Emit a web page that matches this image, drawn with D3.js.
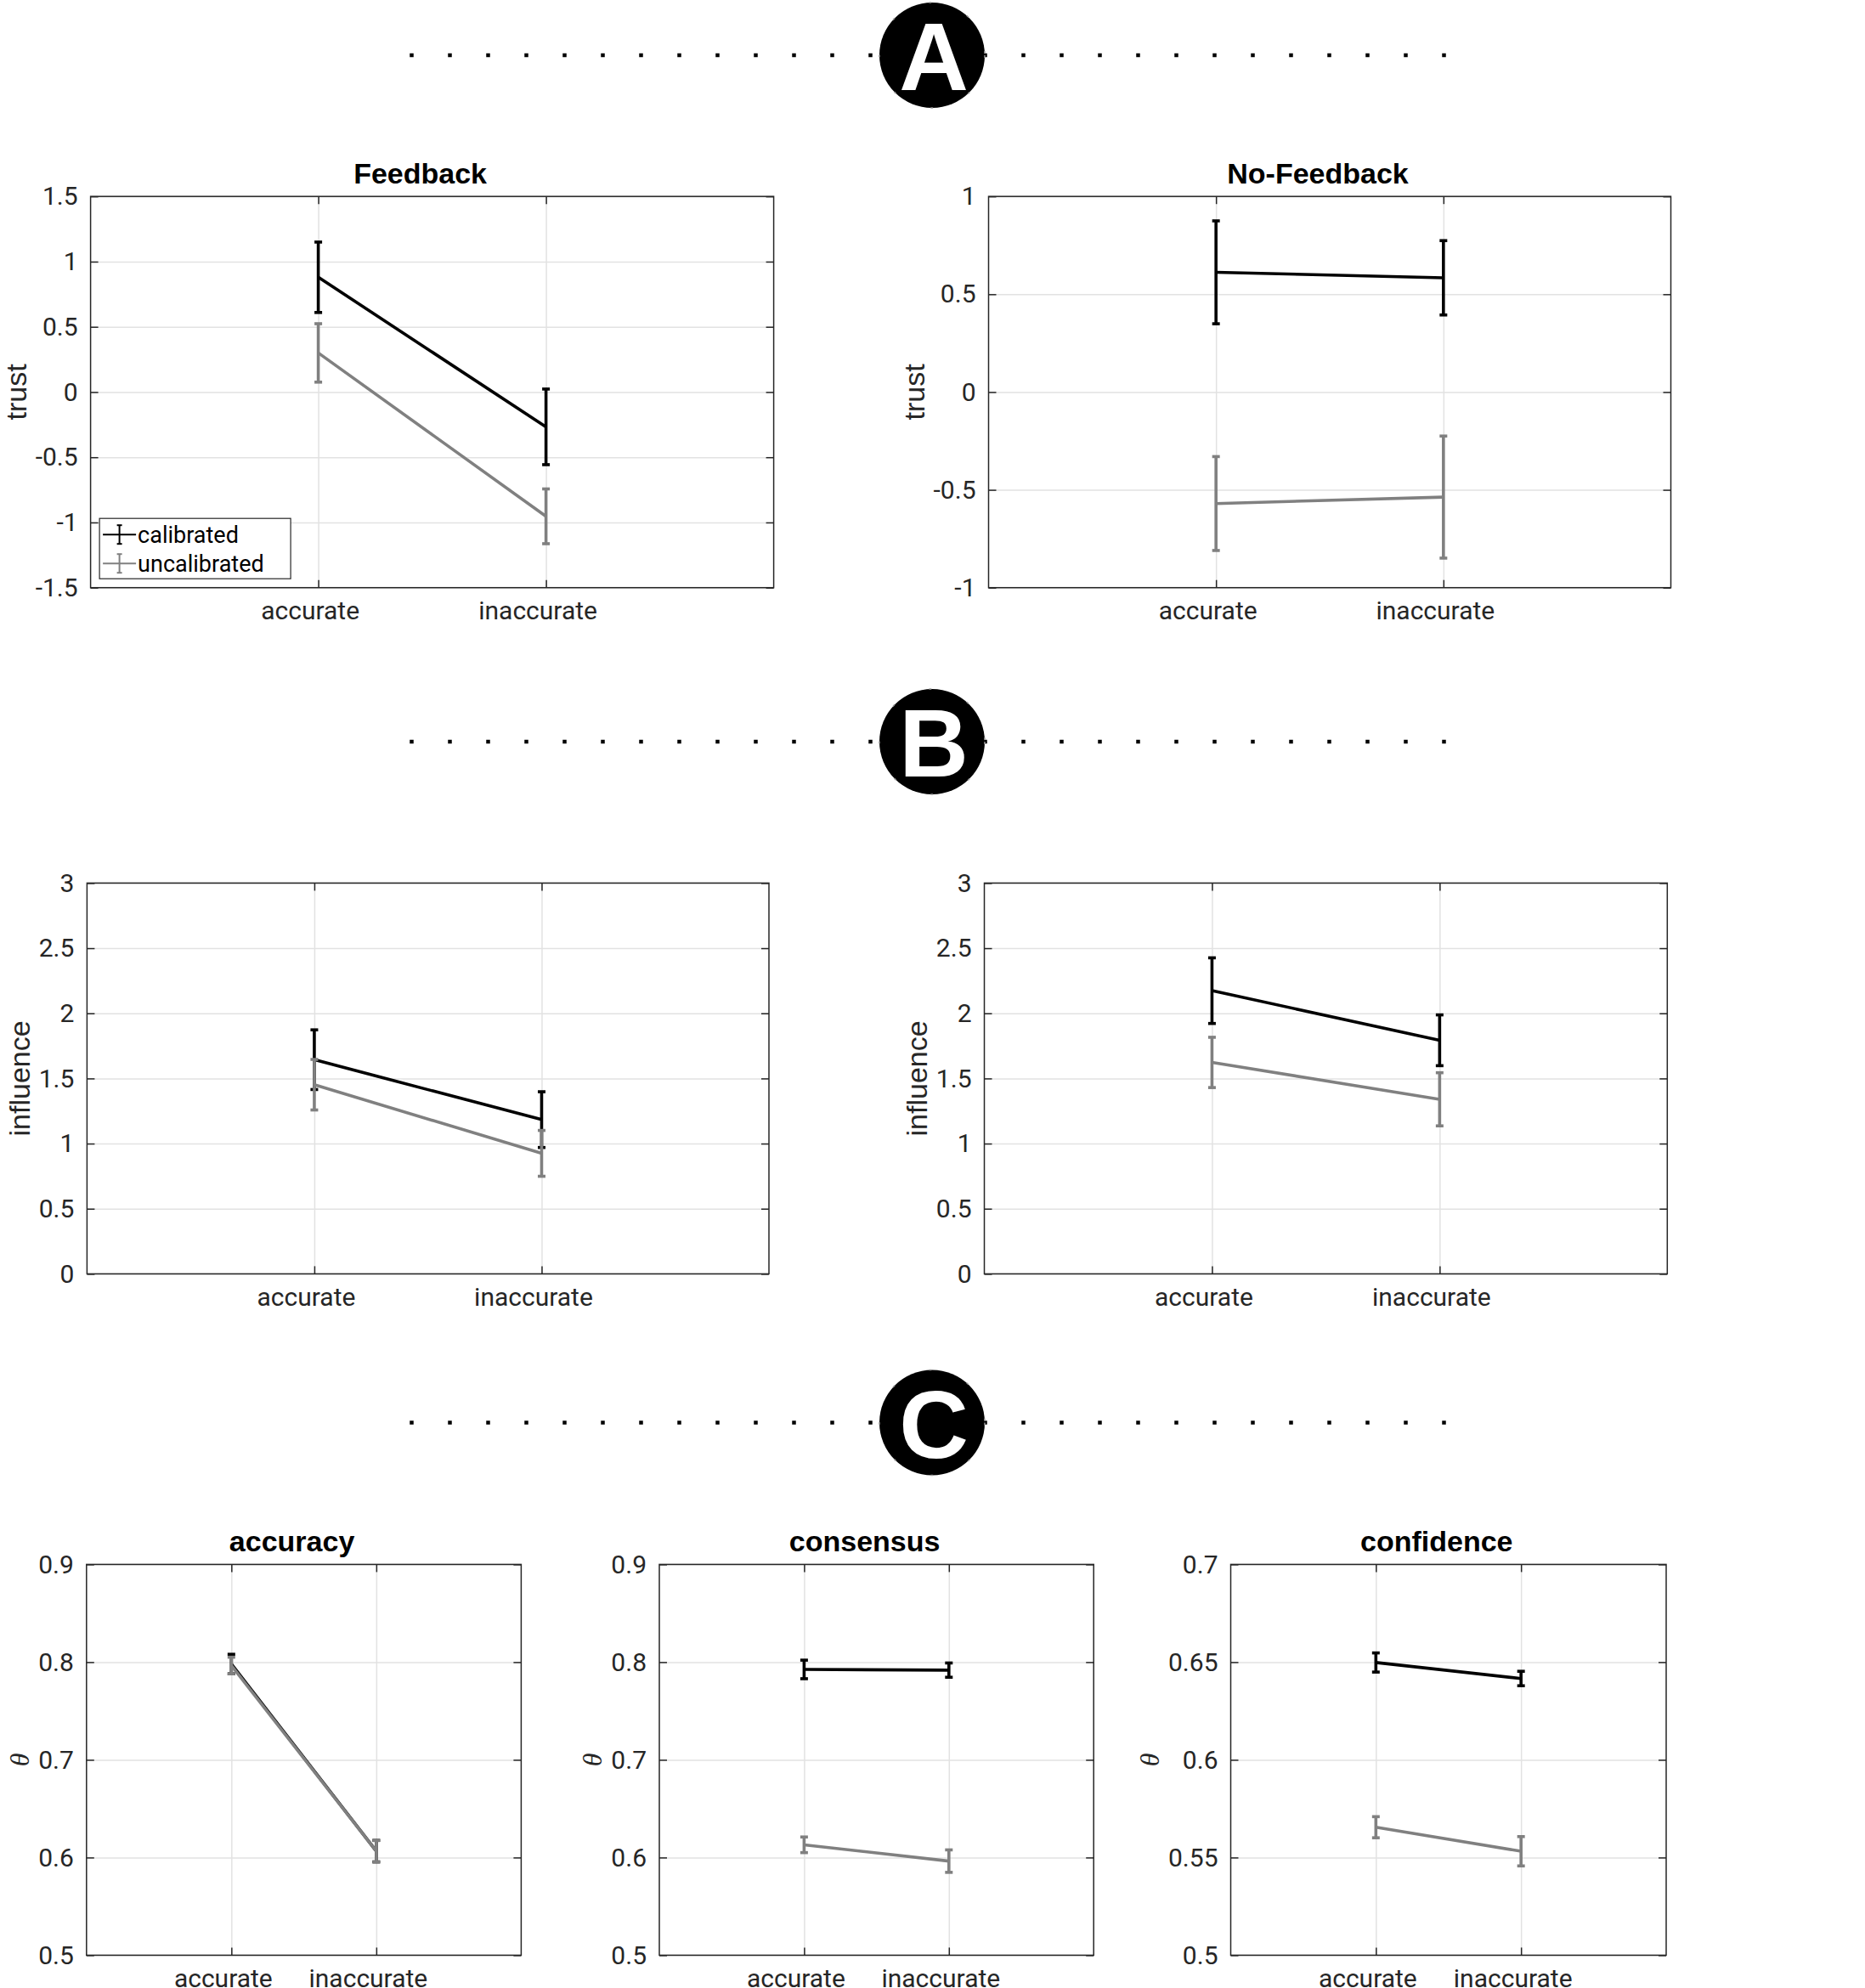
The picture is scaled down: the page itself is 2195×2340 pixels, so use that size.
<!DOCTYPE html>
<html>
<head>
<meta charset="utf-8">
<script src="https://cdn.jsdelivr.net/npm/d3@7"></script>
<style>
  body { margin: 0; background: #fff; }
  svg { display: block; background: #fff; }
</style>
</head>
<body>
<svg id="fig" width="2195" height="2340"></svg>
<script>
// x categories and series
const categories = ['accurate', 'inaccurate'];
const seriesNames = ['calibrated', 'uncalibrated'];

// A: trust, feedback
const trustFbCal = [0.88, -0.267];
const trustFbCalErr = [0.27, 0.29];
const trustFbUncal = [0.30, -0.953];
const trustFbUncalErr = [0.224, 0.21];

// A: trust, no feedback
const trustNoFbCal = [0.612, 0.584];
const trustNoFbCalErr = [0.263, 0.19];
const trustNoFbUncal = [-0.57, -0.537];
const trustNoFbUncalErr = [0.24, 0.312];

// B: influence, feedback
const inflFbCal = [1.644, 1.184];
const inflFbCalErr = [0.229, 0.214];
const inflFbUncal = [1.452, 0.925];
const inflFbUncalErr = [0.194, 0.176];

// B: influence, no feedback
const inflNoFbCal = [2.174, 1.793];
const inflNoFbCalErr = [0.252, 0.195];
const inflNoFbUncal = [1.623, 1.34];
const inflNoFbUncalErr = [0.193, 0.204];

// C: theta
const accuracyCal = [0.798, 0.6065];
const accuracyCalErr = [0.010, 0.011];
const accuracyUncal = [0.7965, 0.6065];
const accuracyUncalErr = [0.0085, 0.011];

const consensusCal = [0.7925, 0.7918];
const consensusCalErr = [0.0095, 0.0073];
const consensusUncal = [0.613, 0.5963];
const consensusUncalErr = [0.008, 0.0115];

const confidenceCal = [0.6498, 0.6416];
const confidenceCalErr = [0.0049, 0.0037];
const confidenceUncal = [0.5655, 0.5532];
const confidenceUncalErr = [0.0054, 0.0075];

// y ticks
const trustFbTicks = [-1.5, -1, -0.5, 0, 0.5, 1, 1.5];
const trustFbTickLabels = ['-1.5', '-1', '-0.5', '0', '0.5', '1', '1.5'];
const trustNoFbTicks = [-1, -0.5, 0, 0.5, 1];
const trustNoFbTickLabels = ['-1', '-0.5', '0', '0.5', '1'];
const inflTicks = [0, 0.5, 1, 1.5, 2, 2.5, 3];
const inflTickLabels = ['0', '0.5', '1', '1.5', '2', '2.5', '3'];
const thetaTicks = [0.5, 0.6, 0.7, 0.8, 0.9];
const thetaTickLabels = ['0.5', '0.6', '0.7', '0.8', '0.9'];
const confTicks = [0.5, 0.55, 0.6, 0.65, 0.7];
const confTickLabels = ['0.5', '0.55', '0.6', '0.65', '0.7'];

const sectionLetters = ['A', 'B', 'C'];

const svg = d3.select('#fig');
const axisColor = '#262626';
const gridColor = '#e2e2e2';
const seriesColor = ['#000000', '#808080'];
const tickFont = 'Roboto, "Liberation Sans", sans-serif';

function drawPanel(p) {
  const g = svg.append('g')
    .attr('transform', 'translate(' + p.left + ',' + p.top + ')');

  const x = d3.scaleLinear().domain([0, categories.length + 1]).range([0, p.width]);
  const y = d3.scaleLinear().domain(d3.extent(p.ticks)).range([p.height, 0]);
  const xTicks = categories.map(function (d, i) { return i + 1; });

  // grid
  g.append('g')
    .attr('class', 'grid')
    .call(d3.axisLeft(y).tickValues(p.ticks).tickSize(-p.width).tickFormat(''))
    .call(function (s) { s.select('.domain').remove(); })
    .selectAll('line')
    .attr('stroke', gridColor)
    .attr('stroke-width', 1.5);

  g.append('g')
    .attr('class', 'grid')
    .attr('transform', 'translate(0,' + p.height + ')')
    .call(d3.axisBottom(x).tickValues(xTicks).tickSize(-p.height).tickFormat(''))
    .call(function (s) { s.select('.domain').remove(); })
    .selectAll('line')
    .attr('stroke', gridColor)
    .attr('stroke-width', 1.5);

  // axes with inward ticks
  const yAxis = g.append('g')
    .attr('class', 'y-axis axis')
    .call(d3.axisLeft(y)
      .tickValues(p.ticks)
      .tickSizeInner(-9)
      .tickSizeOuter(0)
      .tickPadding(15)
      .tickFormat(function (d, i) { return p.tickLabels[i]; }));

  g.append('g')
    .attr('transform', 'translate(' + p.width + ',0)')
    .call(d3.axisRight(y).tickValues(p.ticks).tickSizeInner(-9).tickSizeOuter(0).tickFormat(''));

  g.append('g')
    .call(d3.axisTop(x).tickValues(xTicks).tickSizeInner(-9).tickSizeOuter(0).tickFormat(''));

  g.append('g')
    .attr('class', 'x-axis axis')
    .attr('transform', 'translate(0,' + p.height + ')')
    .call(d3.axisBottom(x)
      .tickValues(xTicks)
      .tickSizeInner(-9)
      .tickSizeOuter(0)
      .tickPadding(16)
      .tickFormat(function (d) { return categories[d - 1]; }))
    .selectAll('text')
    .attr('dx', -10);

  g.selectAll('.domain').remove();
  g.selectAll('.tick line').filter(function () {
    return !this.parentNode.parentNode.classList.contains('grid');
  })
    .attr('stroke', axisColor)
    .attr('stroke-width', 1.5);

  g.selectAll('.axis text')
    .attr('fill', axisColor)
    .style('font-family', tickFont)
    .style('font-size', '30px');

  // series (calibrated first, uncalibrated on top)
  p.series.forEach(function (s, si) {
    const pts = s.mean.map(function (m, i) {
      return { x: i + 1, m: m, e: s.err[i] };
    });
    const sg = g.append('g').attr('class', 'series');

    sg.append('path')
      .datum(pts)
      .attr('fill', 'none')
      .attr('stroke', seriesColor[si])
      .attr('stroke-width', 3.6)
      .attr('d', d3.line()
        .x(function (d) { return x(d.x); })
        .y(function (d) { return y(d.m); }));

    const bars = sg.selectAll('.bar')
      .data(pts)
      .enter()
      .append('g')
      .attr('class', 'bar');

    bars.append('line')
      .attr('x1', function (d) { return x(d.x); })
      .attr('x2', function (d) { return x(d.x); })
      .attr('y1', function (d) { return y(d.m + d.e); })
      .attr('y2', function (d) { return y(d.m - d.e); })
      .attr('stroke', seriesColor[si])
      .attr('stroke-width', 3.6);

    [1, -1].forEach(function (sign) {
      bars.append('line')
        .attr('x1', function (d) { return x(d.x) - 4.5; })
        .attr('x2', function (d) { return x(d.x) + 4.5; })
        .attr('y1', function (d) { return y(d.m + sign * d.e); })
        .attr('y2', function (d) { return y(d.m + sign * d.e); })
        .attr('stroke', seriesColor[si])
        .attr('stroke-width', 3.6);
    });
  });

  // box
  g.append('rect')
    .attr('width', p.width)
    .attr('height', p.height)
    .attr('fill', 'none')
    .attr('stroke', axisColor)
    .attr('stroke-width', 1.5);

  if (p.title) {
    g.append('text')
      .attr('x', p.width / 2 - 14)
      .attr('y', -15.5)
      .attr('text-anchor', 'middle')
      .style('font-family', '"Liberation Sans", Arial, sans-serif')
      .style('font-weight', 'bold')
      .style('font-size', '34px')
      .attr('fill', '#000')
      .text(p.title);
  }

  // y label placed left of the widest tick label
  let minX = 0;
  yAxis.selectAll('text').each(function () {
    const b = this.getBBox();
    minX = Math.min(minX, b.x);
  });
  const lab = g.append('text')
    .attr('transform', 'translate(' + (minX - 11) + ',' + (p.height / 2) + ') rotate(-90)')
    .attr('text-anchor', 'middle')
    .attr('fill', axisColor)
    .text(p.ylabel);
  if (p.ylabel === 'θ') {
    lab.style('font-family', '"Liberation Serif", "DejaVu Serif", serif')
      .style('font-style', 'italic')
      .style('font-size', '32px');
  } else {
    lab.style('font-family', '"Liberation Sans", Arial, sans-serif')
      .style('font-size', '34px');
  }

  if (p.legend) {
    const lg = g.append('g')
      .attr('transform', 'translate(10.5,' + (p.height - 81.5) + ')');
    lg.append('rect')
      .attr('width', 225)
      .attr('height', 71)
      .attr('fill', '#fff')
      .attr('stroke', axisColor)
      .attr('stroke-width', 1.2);
    const rows = lg.selectAll('.entry')
      .data(seriesNames)
      .enter()
      .append('g')
      .attr('class', 'entry')
      .attr('transform', function (d, i) { return 'translate(0,' + (19 + i * 34) + ')'; });
    rows.append('line')
      .attr('x1', 4).attr('x2', 43).attr('y1', 0).attr('y2', 0)
      .attr('stroke', function (d, i) { return seriesColor[i]; })
      .attr('stroke-width', 2);
    rows.append('line')
      .attr('x1', 23.5).attr('x2', 23.5).attr('y1', -11).attr('y2', 11)
      .attr('stroke', function (d, i) { return seriesColor[i]; })
      .attr('stroke-width', 2);
    [-11, 11].forEach(function (cy) {
      rows.append('line')
        .attr('x1', 20.5).attr('x2', 26.5).attr('y1', cy).attr('y2', cy)
        .attr('stroke', function (d, i) { return seriesColor[i]; })
        .attr('stroke-width', 2);
    });
    rows.append('text')
      .attr('x', 45)
      .attr('y', 0)
      .attr('dy', '0.35em')
      .attr('fill', '#000')
      .style('font-family', tickFont)
      .style('font-size', '27px')
      .text(function (d) { return d; });
  }
}

// section headers: dotted rule with lettered disc
const headerY = [65, 873, 1674.5];
headerY.forEach(function (cy, i) {
  const hg = svg.append('g').attr('class', 'header');
  hg.selectAll('rect')
    .data(d3.range(28))
    .enter()
    .append('rect')
    .attr('x', function (k) { return 484.5 + k * 45 - 2.25; })
    .attr('y', cy - 2.25)
    .attr('width', 4.5)
    .attr('height', 4.5)
    .attr('fill', '#000');
  hg.append('circle')
    .attr('cx', 1097)
    .attr('cy', cy)
    .attr('r', 62)
    .attr('fill', '#000')
    .attr('stroke', '#9a9a9a')
    .attr('stroke-width', 1.5)
    .attr('stroke-dasharray', '3 45');
  hg.append('text')
    .attr('x', 1099)
    .attr('y', cy + 41)
    .attr('text-anchor', 'middle')
    .attr('fill', '#fff')
    .style('font-family', '"Liberation Sans", Arial, sans-serif')
    .style('font-weight', 'bold')
    .style('font-size', '113px')
    .text(sectionLetters[i]);
});

const panels = [
  { left: 106.6, top: 231.2, width: 804, height: 460.5, title: 'Feedback', ylabel: 'trust',
    ticks: trustFbTicks, tickLabels: trustFbTickLabels, legend: true,
    series: [{ mean: trustFbCal, err: trustFbCalErr }, { mean: trustFbUncal, err: trustFbUncalErr }] },
  { left: 1163.5, top: 231.2, width: 803, height: 460.5, title: 'No-Feedback', ylabel: 'trust',
    ticks: trustNoFbTicks, tickLabels: trustNoFbTickLabels,
    series: [{ mean: trustNoFbCal, err: trustNoFbCalErr }, { mean: trustNoFbUncal, err: trustNoFbUncalErr }] },
  { left: 102.4, top: 1039.4, width: 802.6, height: 460, ylabel: 'influence',
    ticks: inflTicks, tickLabels: inflTickLabels,
    series: [{ mean: inflFbCal, err: inflFbCalErr }, { mean: inflFbUncal, err: inflFbUncalErr }] },
  { left: 1158.5, top: 1039.4, width: 803.8, height: 460, ylabel: 'influence',
    ticks: inflTicks, tickLabels: inflTickLabels,
    series: [{ mean: inflNoFbCal, err: inflNoFbCalErr }, { mean: inflNoFbUncal, err: inflNoFbUncalErr }] },
  { left: 101.8, top: 1841.4, width: 511.6, height: 460, title: 'accuracy', ylabel: 'θ',
    ticks: thetaTicks, tickLabels: thetaTickLabels,
    series: [{ mean: accuracyCal, err: accuracyCalErr }, { mean: accuracyUncal, err: accuracyUncalErr }] },
  { left: 776, top: 1841.4, width: 511.2, height: 460, title: 'consensus', ylabel: 'θ',
    ticks: thetaTicks, tickLabels: thetaTickLabels,
    series: [{ mean: consensusCal, err: consensusCalErr }, { mean: consensusUncal, err: consensusUncalErr }] },
  { left: 1448.5, top: 1841.4, width: 512.5, height: 460, title: 'confidence', ylabel: 'θ',
    ticks: confTicks, tickLabels: confTickLabels,
    series: [{ mean: confidenceCal, err: confidenceCalErr }, { mean: confidenceUncal, err: confidenceUncalErr }] }
];

panels.forEach(drawPanel);
</script>
</body>
</html>
